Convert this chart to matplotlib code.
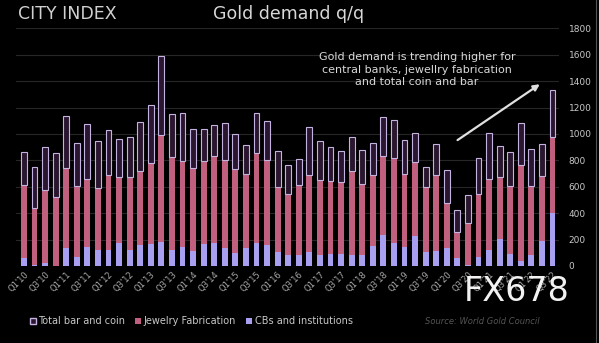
import numpy as np
import matplotlib.pyplot as plt
from matplotlib.patches import Patch

# quarterly gold demand, tonnes (Q1'10 .. Q3'22)
quarters = ["Q%d'%02d" % (q, y) for y in range(10, 23) for q in (1, 2, 3, 4)][:51]

cbs = [58, 5, 25, 3, 139, 68, 146, 119, 119, 172, 119, 162, 167, 179, 119, 146,
       116, 164, 177, 134, 101, 134, 172, 162, 109, 86, 86, 106, 86, 94, 94, 83,
       83, 154, 235, 172, 146, 227, 109, 116, 134, 58, 5, 66, 121, 204, 91, 38,
       83, 192, 404]

jewelry_top = [613, 442, 576, 525, 745, 608, 659, 588, 689, 672, 677, 717, 778, 992,
               828, 798, 740, 798, 833, 803, 732, 694, 853, 803, 601, 545, 614, 687,
               652, 646, 640, 722, 621, 689, 833, 818, 694, 790, 601, 689, 475, 260,
               323, 545, 659, 672, 609, 765, 609, 682, 980]

total = [866, 748, 899, 853, 1136, 934, 1076, 947, 1030, 962, 975, 1093, 1220, 1593,
         1152, 1162, 1035, 1038, 1068, 1081, 997, 914, 1162, 1098, 869, 763, 811,
         1055, 949, 899, 874, 975, 879, 929, 1131, 1106, 954, 1005, 747, 924, 727,
         424, 538, 816, 1005, 912, 866, 1081, 884, 924, 1333]

jewelry = [j - c for j, c in zip(jewelry_top, cbs)]
barcoin = [t - j for t, j in zip(total, jewelry_top)]

BG = '#000000'
TXT = '#c8c8c8'
C_CB = '#a99ff0'
C_JW = '#c0607e'
C_BC = '#2b1630'
C_EDGE = '#c3b3e0'

fig = plt.figure(figsize=(5.99, 3.43), dpi=100, facecolor=BG)
ax = fig.add_axes([0.0259, 0.2245, 0.907, 0.6927], facecolor=BG)

x = np.arange(len(quarters))
w = 0.56
ax.bar(x, cbs, w, color=C_CB, zorder=3)
ax.bar(x, jewelry, w, bottom=cbs, color=C_JW, zorder=3)
ax.bar(x, barcoin, w, bottom=jewelry_top, color=C_BC, edgecolor=C_EDGE,
       linewidth=0.8, zorder=3)

ax.set_xlim(-0.8, 50.6)
ax.set_ylim(0, 1800)
ax.set_yticks(range(0, 1801, 200))
ax.yaxis.tick_right()
ax.tick_params(axis='y', length=0, pad=7, labelsize=6.5, labelcolor=TXT)
ax.grid(axis='y', color='#262626', linewidth=0.8, zorder=0)

ax.set_xticks(x[::2])
ax.set_xticklabels(quarters[::2], rotation=45, ha='right', rotation_mode='anchor')
ax.tick_params(axis='x', length=0, pad=3, labelsize=6, labelcolor='#a8a8a8')
for s in ax.spines.values():
    s.set_visible(False)

fig.text(0.03, 0.985, 'CITY INDEX', color='#d0d0d0', fontsize=12.5, va='top')
fig.text(0.4825, 0.985, 'Gold demand q/q', color='#d8d8d8', fontsize=12.5,
         va='top', ha='center')

ax.text(0.696, 0.848, 'Gold demand is trending higher for\ncentral banks, jewellry fabrication\nand total coin and bar',
        transform=fig.transFigure, ha='center', va='top', color='#d8d8d8',
        fontsize=8, linespacing=1.3)
ax.annotate('', xy=(0.905, 0.759), xytext=(0.76, 0.587), xycoords='figure fraction',
            arrowprops=dict(arrowstyle='-|>', color='#e0e0e0', lw=1.6,
                            mutation_scale=9))

handles = [Patch(facecolor=C_BC, edgecolor=C_EDGE, label='Total bar and coin'),
           Patch(facecolor=C_JW, label='Jewelry Fabrication'),
           Patch(facecolor=C_CB, label='CBs and institutions')]
fig.legend(handles=handles, loc='center left', bbox_to_anchor=(0.035, 0.064),
           ncol=3, frameon=False, fontsize=7, labelcolor=TXT, handlelength=0.6,
           handleheight=0.6, handletextpad=0.3, columnspacing=1.0)

fig.text(0.71, 0.064, 'Source: World Gold Council', color='#555555',
         fontsize=6, style='italic', va='center')
fig.text(0.862, 0.15, 'FX678', color='white', fontsize=24, ha='center',
         va='center', alpha=0.95)

fig.add_artist(plt.Line2D([0.995, 0.995], [0.0, 1.0], color='#555555', lw=0.8))

fig.savefig('out.png', dpi=100, facecolor=BG)
